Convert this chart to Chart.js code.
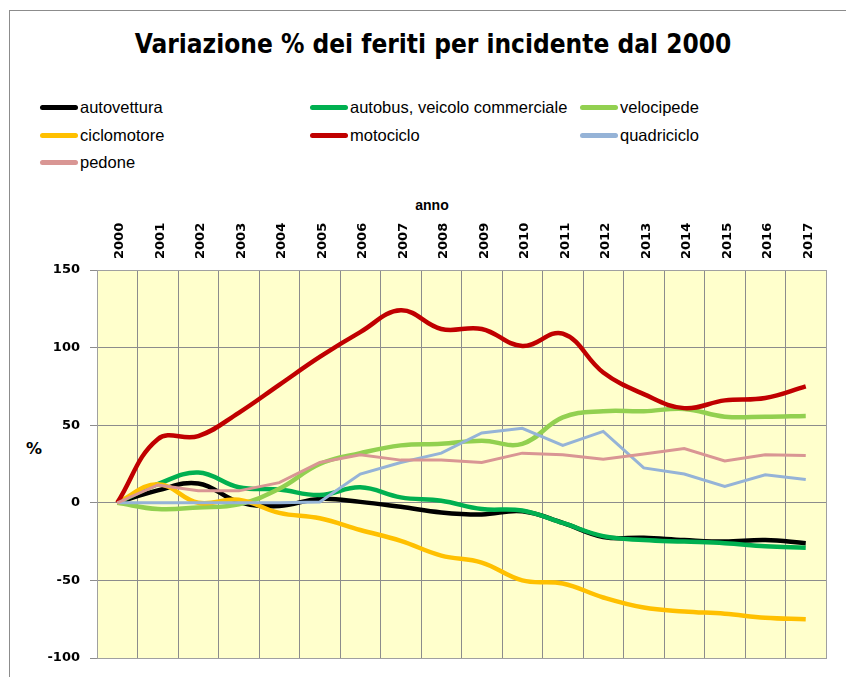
<!DOCTYPE html>
<html>
<head>
<meta charset="utf-8">
<script src="https://cdn.jsdelivr.net/npm/chart.js@4.4.0/dist/chart.umd.min.js"></script>
<style>
  body { margin: 0; background: #fff; }
  #wrap { position: relative; width: 846px; height: 677px; overflow: hidden; }
  #frame { position: absolute; left: 9px; top: 10px; width: 850px; height: 700px;
    border-left: 1px solid #8c8c8c; border-top: 1px solid #8c8c8c; }
  #titolo { position: absolute; left: 0; top: 29px; width: 866px; text-align: center;
    font: bold 26px "DejaVu Sans Condensed", sans-serif; color: #000; }
  .leg { position: absolute; font: 16.5px "Liberation Sans", sans-serif; color: #000; white-space: nowrap; }
  .leg span { display: inline-block; width: 38px; height: 5px; border-radius: 3px; vertical-align: middle; margin-right: 2px; position: relative; top: -1px; }
  #anno { position: absolute; left: 397px; top: 197px; width: 70px; text-align: center;
    font: bold 14px "Liberation Sans", sans-serif; }
  #perc { position: absolute; left: 20px; top: 439px; width: 28px; text-align: center;
    font: bold 16px "DejaVu Sans", sans-serif; }
  canvas { position: absolute; left: 0; top: 0; }
</style>
</head>
<body>
<div id="wrap">
  <div id="frame"></div>
  <div id="titolo">Variazione % dei feriti per incidente dal 2000</div>
  <div id="legenda"></div>
  <div id="anno">anno</div>
  <div id="perc">%</div>
  <canvas id="myChart" width="846" height="677"></canvas>
</div>
<script>
// dati
const anni = ["2000", "2001", "2002", "2003", "2004", "2005", "2006", "2007", "2008",
  "2009", "2010", "2011", "2012", "2013", "2014", "2015", "2016", "2017"];
const yTicks = [150, 100, 50, 0, -50, -100];

const autovettura = [0, 8, 12.5, 0.5, -2, 2.5, 0.6, -2.6, -6.2, -7.5, -5.5, -13, -22, -22.5, -24, -25, -24, -26];
const autobus = [0, 12, 19.5, 10, 8.5, 5, 10, 3.5, 1.3, -4, -5, -13, -21.5, -24, -25, -26, -28, -29];
const velocipede = [0, -4, -3, -1, 9, 25, 32, 37, 38, 40, 38, 55, 59, 59, 60.5, 55.5, 55.5, 56];
const ciclomotore = [0, 12, 0, 2, -6.5, -10, -17.5, -24.5, -34, -38.5, -50, -52, -61, -67.5, -70, -71.5, -74, -75];
const motociclo = [0, 41, 43, 58, 76, 94, 110, 124, 112, 112, 101, 109, 84, 70, 61, 66, 67.5, 75];
const quadriciclo = [0, 0, 0, 0, 0, 0.5, 18.5, 26, 32, 45, 48, 37, 46, 22.5, 18.5, 10.5, 18, 15];
const pedone = [0, 11.5, 7.7, 7.7, 13, 26, 31, 27.5, 27.5, 26, 32, 31, 28, 31.5, 35, 27, 31, 30.5];

const serie = [
  { label: "autovettura", data: autovettura, color: "#000000", w: 4.5, t: 0.4 },
  { label: "autobus, veicolo commerciale", data: autobus, color: "#00B050", w: 4.5, t: 0.4 },
  { label: "velocipede", data: velocipede, color: "#92D050", w: 4.5, t: 0.4 },
  { label: "ciclomotore", data: ciclomotore, color: "#FFC000", w: 4.5, t: 0.4 },
  { label: "motociclo", data: motociclo, color: "#C00000", w: 4.5, t: 0.4 },
  { label: "quadriciclo", data: quadriciclo, color: "#95B3D7", w: 3, t: 0 },
  { label: "pedone", data: pedone, color: "#D99694", w: 3, t: 0 },
];

// legenda a tre colonne
const legenda = document.getElementById("legenda");
const colX = [40, 310, 580];
const rigaY = [98, 126, 153];
serie.forEach((s, i) => {
  const el = document.createElement("div");
  el.className = "leg";
  el.style.left = colX[i % 3] + "px";
  el.style.top = rigaY[Math.floor(i / 3)] + "px";
  el.innerHTML = `<span style="background:${s.color}"></span>${s.label}`;
  legenda.appendChild(el);
});

const sfondo = {
  id: "sfondo",
  beforeDraw: (chart) => {
    const { ctx, chartArea } = chart;
    ctx.save();
    ctx.fillStyle = "#FFFFCC";
    ctx.fillRect(chartArea.left, chartArea.top, chartArea.right - chartArea.left, chartArea.bottom - chartArea.top);
    ctx.restore();
  },
  afterDatasetsDraw: (chart) => {
    const { ctx, chartArea } = chart;
    ctx.save();
    ctx.strokeStyle = "#a0a0a0";
    ctx.lineWidth = 1;
    ctx.strokeRect(chartArea.left + 0.5, chartArea.top + 0.5, chartArea.right - chartArea.left, chartArea.bottom - chartArea.top);
    ctx.restore();
  },
};

const ctx = document.getElementById("myChart");
const myChart = new Chart(ctx, {
  type: "line",
  data: {
    labels: anni,
    datasets: serie.map((s, i) => ({
      label: s.label,
      data: s.data,
      borderColor: s.color,
      backgroundColor: s.color,
      borderWidth: s.w,
      tension: s.t,
      pointRadius: 0,
      fill: false,
      order: serie.length - i,
    })),
  },
  options: {
    responsive: false,
    animation: false,
    layout: { padding: { top: 197, left: 0, right: 20, bottom: 19 } },
    plugins: {
      legend: { display: false },
      title: { display: false },
      tooltip: { enabled: false },
    },
    scales: {
      x: {
        position: "top",
        offset: true,
        afterFit: (scale) => { scale.height = 73; },
        grid: { offset: true, color: "#8c8c8c", drawTicks: false },
        border: { color: "#a0a0a0" },
        ticks: {
          minRotation: 90,
          maxRotation: 90,
          padding: 11,
          labelOffset: 18,
          color: "#000",
          font: { family: "DejaVu Sans", weight: "bold", size: 13 },
        },
      },
      y: {
        min: -100,
        max: 150,
        afterFit: (scale) => { scale.width = 97; },
        afterBuildTicks: (scale) => { scale.ticks = yTicks.map((v) => ({ value: v })); },
        grid: { color: "#8c8c8c", tickLength: 7 },
        border: { color: "#a0a0a0" },
        ticks: {
          padding: 10,
          color: "#000",
          font: { family: "DejaVu Sans", weight: "bold", size: 13 },
        },
      },
    },
  },
  plugins: [sfondo],
});
</script>
</body>
</html>
